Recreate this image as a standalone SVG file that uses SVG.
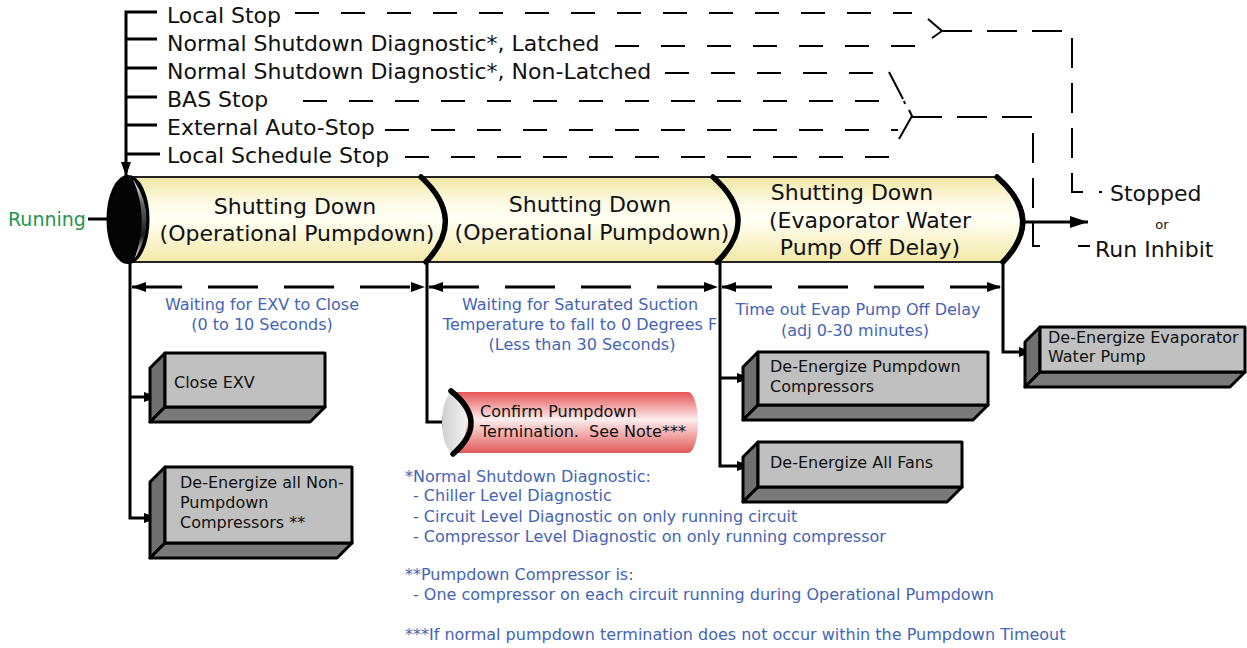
<svg xmlns="http://www.w3.org/2000/svg" width="1247" height="648" viewBox="0 0 1247 648">
<defs>
  <linearGradient id="gY" x1="0" y1="0" x2="0" y2="1">
    <stop offset="0" stop-color="#f1e6a2"/>
    <stop offset="0.3" stop-color="#fdfae6"/>
    <stop offset="0.5" stop-color="#fffff4"/>
    <stop offset="1" stop-color="#f3e8a6"/>
  </linearGradient>
  <linearGradient id="gP" x1="0" y1="0" x2="0" y2="1">
    <stop offset="0" stop-color="#e55454"/>
    <stop offset="0.45" stop-color="#fdeeee"/>
    <stop offset="1" stop-color="#e35858"/>
  </linearGradient>
  <linearGradient id="gG" x1="0" y1="0" x2="1" y2="0">
    <stop offset="0" stop-color="#cfcfcf"/>
    <stop offset="1" stop-color="#f2f2f2"/>
  </linearGradient>
  <linearGradient id="gH" x1="0" y1="0" x2="0" y2="1">
    <stop offset="0" stop-color="#ffffff"/>
    <stop offset="0.3" stop-color="#666666"/>
    <stop offset="0.7" stop-color="#1a1a1a"/>
    <stop offset="0.95" stop-color="#e8e8e8"/>
  </linearGradient>
  <marker id="ah" viewBox="0 0 14 10" refX="14" refY="5" markerWidth="14" markerHeight="10" markerUnits="userSpaceOnUse" orient="auto-start-reverse">
    <path d="M0,0 L14,5 L0,10 Z" fill="#000"/>
  </marker>
  <marker id="ah2" viewBox="0 0 18 12" refX="18" refY="6" markerWidth="18" markerHeight="12" markerUnits="userSpaceOnUse" orient="auto">
    <path d="M0,0 L18,6 L0,12 Z" fill="#000"/>
  </marker>
</defs>
<style>
  text { font-family: "DejaVu Sans", Verdana, sans-serif; }
  .big { font-size: 22px; fill: #111; }
  .lbl { font-size: 16px; fill: #4464b4; }
  .bx { font-size: 16px; fill: #111; }
  .ln { fill: none; stroke: #000; stroke-width: 3; }
  .dsh { fill: none; stroke: #000; stroke-width: 2; stroke-dasharray: 24 22; }
  .col { fill: none; stroke: #000; stroke-width: 2; stroke-dasharray: 30 15; }
  .thin { fill: none; stroke: #000; stroke-width: 2; }
  .dbl { fill: none; stroke: #000; stroke-width: 3; stroke-dasharray: 50 26; }
  .arc { fill: none; stroke: #000; stroke-width: 5.5; stroke-linecap: round; }
  .front { fill: #c0c0c0; stroke: #000; stroke-width: 3; stroke-linejoin: round; }
  .side { fill: #6f6f6f; stroke: #000; stroke-width: 3; stroke-linejoin: round; }
  .side2 { fill: #7a7a7a; stroke: #000; stroke-width: 3; stroke-linejoin: round; }
</style>
<rect width="1247" height="648" fill="#fff"/>

<g id="inputs">
  <text class="big" x="167" y="23">Local Stop</text>
  <text class="big" x="167" y="51">Normal Shutdown Diagnostic*, Latched</text>
  <text class="big" x="167" y="79">Normal Shutdown Diagnostic*, Non-Latched</text>
  <text class="big" x="167" y="107">BAS Stop</text>
  <text class="big" x="167" y="135">External Auto-Stop</text>
  <text class="big" x="167" y="163">Local Schedule Stop</text>
</g>

<g id="connectors">
  <path class="ln" d="M157,12 H126 V176" marker-end="url(#ah)"/>
  <path class="ln" d="M126,39 H157 M126,68 H157 M126,97 H157 M126,125 H157 M126,154 H160"/>
  <path class="dsh" d="M295,13 H912"/>
  <path class="dsh" d="M615,46 H921"/>
  <path class="thin" d="M928,19 L942,31 L932,38"/>
  <path class="col" d="M942,31 H1064"/>
  <path class="col" d="M1072,38 V192 H1086"/>
  <path class="thin" d="M1099,192 H1102"/>
  <path class="dsh" d="M665,73 H880"/>
  <path class="dsh" d="M303,101 H886"/>
  <path class="dsh" d="M385,130 H898"/>
  <path class="dsh" d="M405,157 H892 L894,152"/>
  <path class="thin" d="M889,72 L903,99 M904,101 L905,104 M899,139 L912,116 L909,110"/>
  <path class="col" d="M912,117 H1034"/>
  <path class="col" d="M1033,133 V246 H1054"/>
  <path class="thin" d="M1078,246 H1090"/>
  <path class="ln" d="M88,219 H110"/>
  <path class="ln" d="M1024,222 H1088" marker-end="url(#ah2)"/>
  <path class="ln" d="M130,262 V518 H158" marker-end="url(#ah)"/>
  <path class="ln" d="M130,397 H158" marker-end="url(#ah)"/>
  <path class="ln" d="M427,262 V422 H456" marker-end="url(#ah)"/>
  <path class="ln" d="M720,262 V466 H751" marker-end="url(#ah)"/>
  <path class="ln" d="M720,378 H751" marker-end="url(#ah)"/>
  <path class="ln" d="M1003,262 V352 H1033" marker-end="url(#ah)"/>
  <path class="dbl" d="M132,287 H425" marker-start="url(#ah)" marker-end="url(#ah)"/>
  <path class="dbl" d="M429,287 H718" marker-start="url(#ah)" marker-end="url(#ah)"/>
  <path class="dbl" d="M722,287 H1001" marker-start="url(#ah)" marker-end="url(#ah)"/>
</g>

<g id="running">
  <text x="8" y="226" style="font-size:19px;fill:#1e9650">Running</text>
</g>

<g id="cylinder">
  <path d="M128,177 H997 Q1049,219 1003,262 H128 Z" fill="url(#gY)" stroke="#222" stroke-width="2"/>
  <path class="arc" d="M421,177 Q467,219 426,262"/>
  <path class="arc" d="M713,177 Q761,219 717,262"/>
  <path class="arc" d="M997,177 Q1045,219 1003,262"/>
  <ellipse cx="128" cy="219.5" rx="20" ry="43" fill="#050505"/>
  <path d="M133,179 Q160,219 134,260 Q150,219 133,179 Z" fill="url(#gH)"/>
  <ellipse cx="128" cy="219.5" rx="20" ry="43" fill="none" stroke="#000" stroke-width="3"/>
</g>
<g id="sec1">
  <text class="big" x="295" y="214" text-anchor="middle">Shutting Down</text>
  <text class="big" x="297" y="241" text-anchor="middle">(Operational Pumpdown)</text>
</g>
<g id="sec2">
  <text class="big" x="590" y="212" text-anchor="middle">Shutting Down</text>
  <text class="big" x="592" y="240" text-anchor="middle">(Operational Pumpdown)</text>
</g>
<g id="sec3">
  <text class="big" x="852" y="200" text-anchor="middle">Shutting Down</text>
  <text class="big" x="870" y="228" text-anchor="middle">(Evaporator Water</text>
  <text class="big" x="870" y="255" text-anchor="middle">Pump Off Delay)</text>
</g>

<g id="result">
  <text class="big" x="1110" y="201">Stopped</text>
  <text x="1162" y="229" text-anchor="middle" style="font-size:13px;fill:#111">or</text>
  <text class="big" x="1095" y="257">Run Inhibit</text>
</g>

<g id="t1">
  <text class="lbl" x="262" y="310" text-anchor="middle">Waiting for EXV to Close</text>
  <text class="lbl" x="262" y="330" text-anchor="middle">(0 to 10 Seconds)</text>
</g>
<g id="t2">
  <text class="lbl" x="580" y="310" text-anchor="middle">Waiting for Saturated Suction</text>
  <text class="lbl" x="580" y="330" text-anchor="middle">Temperature to fall to 0 Degrees F</text>
  <text class="lbl" x="582" y="350" text-anchor="middle">(Less than 30 Seconds)</text>
</g>
<g id="t3">
  <text class="lbl" x="858" y="315" text-anchor="middle">Time out Evap Pump Off Delay</text>
  <text class="lbl" x="855" y="336" text-anchor="middle">(adj 0-30 minutes)</text>
</g>

<g id="closeEXV">
  <polygon class="side" points="165,353 150,368 150,422 165,407"/>
  <polygon class="side2" points="165,407 150,422 310,422 325,407"/>
  <rect class="front" x="165" y="353" width="160" height="54"/>
  <text class="bx" x="174" y="388">Close EXV</text>
</g>
<g id="nonPumpdown">
  <polygon class="side" points="165,467 150,482 150,558 165,543"/>
  <polygon class="side2" points="165,543 150,558 337,558 352,543"/>
  <rect class="front" x="165" y="467" width="187" height="76"/>
  <text class="bx" x="180" y="488">De-Energize all Non-</text>
  <text class="bx" x="180" y="508">Pumpdown</text>
  <text class="bx" x="180" y="528">Compressors **</text>
</g>
<g id="pumpdownComp">
  <polygon class="side" points="758,352 743,367 743,420 758,405"/>
  <polygon class="side2" points="758,405 743,420 973,420 988,405"/>
  <rect class="front" x="758" y="352" width="230" height="53"/>
  <text class="bx" x="770" y="372">De-Energize Pumpdown</text>
  <text class="bx" x="770" y="392">Compressors</text>
</g>
<g id="allFans">
  <polygon class="side" points="758,442 743,457 743,502 758,487"/>
  <polygon class="side2" points="758,487 743,502 947,502 962,487"/>
  <rect class="front" x="758" y="442" width="204" height="45"/>
  <text class="bx" x="770" y="468">De-Energize All Fans</text>
</g>
<g id="evapPump">
  <polygon class="side" points="1040,327 1025,342 1025,387 1040,372"/>
  <polygon class="side2" points="1040,372 1025,387 1230,387 1245,372"/>
  <rect class="front" x="1040" y="327" width="205" height="45"/>
  <text class="bx" x="1048" y="343">De-Energize Evaporator</text>
  <text class="bx" x="1048" y="362">Water Pump</text>
</g>
<g id="confirm">
  <path d="M452,392 H688 A10 30.5 0 0 1 688,453 H452 Z" fill="url(#gP)"/>
  <ellipse cx="454" cy="422.5" rx="12" ry="30.5" fill="url(#gG)"/>
  <path class="arc" d="M451,391 Q490,422 453,454"/>
  <text class="bx" x="480" y="417">Confirm Pumpdown</text>
  <text class="bx" x="480" y="437" style="white-space:pre">Termination.  See Note***</text>
</g>

<g id="notes">
  <text class="lbl" x="405" y="482">*Normal Shutdown Diagnostic:</text>
  <text class="lbl" x="413" y="501">- Chiller Level Diagnostic</text>
  <text class="lbl" x="413" y="522">- Circuit Level Diagnostic on only running circuit</text>
  <text class="lbl" x="413" y="542">- Compressor Level Diagnostic on only running compressor</text>
  <text class="lbl" x="405" y="580">**Pumpdown Compressor is:</text>
  <text class="lbl" x="413" y="600">- One compressor on each circuit running during Operational Pumpdown</text>
  <text class="lbl" x="405" y="640">***If normal pumpdown termination does not occur within the Pumpdown Timeout</text>
</g>
</svg>
